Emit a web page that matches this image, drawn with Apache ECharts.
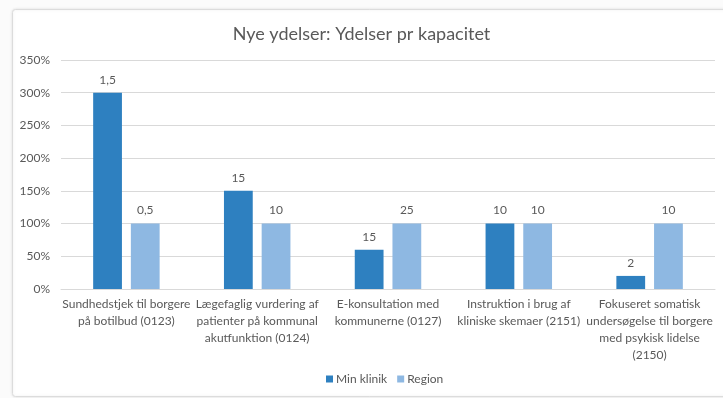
<!DOCTYPE html>
<html>
<head>
<meta charset="utf-8">
<script src="https://cdn.jsdelivr.net/npm/echarts@6/dist/echarts.min.js"></script>
<style>
  html, body { margin: 0; padding: 0; background: #ffffff; }
  #chart { width: 723px; height: 398px; }
</style>
</head>
<body>
<div id="chart"></div>
<script>
// Services and their ratios (share of capacity, %)
const categories = [
  'Sundhedstjek til borgere\npå botilbud (0123)',
  'Lægefaglig vurdering af\npatienter på kommunal\nakutfunktion (0124)',
  'E-konsultation med\nkommunerne (0127)',
  'Instruktion i brug af\nkliniske skemaer (2151)',
  'Fokuseret somatisk\nundersøgelse til borgere\nmed psykisk lidelse\n(2150)'
];
const minKlinikPct = [300, 150, 60, 100, 20];
const regionPct = [100, 100, 100, 100, 100];
// Counts printed above the bars
const minKlinikLabels = ['1,5', '15', '15', '10', '2'];
const regionLabels = ['0,5', '10', '25', '10', '10'];
const yTicks = [0, 50, 100, 150, 200, 250, 300, 350];

const FONT = 'Lato, "Open Sans", sans-serif';
const TXT = '#595959';

const chart = echarts.init(document.getElementById('chart'), null, { renderer: 'canvas' });
chart.setOption({
  animation: false,
  backgroundColor: '#fbfbfb',
  graphic: [{
    type: 'rect',
    left: 12, top: 9,
    shape: { width: 730, height: 387, r: 3 },
    style: { fill: '#ffffff', stroke: '#dcdcdc', lineWidth: 1, shadowBlur: 3, shadowColor: 'rgba(0,0,0,0.10)' },
    z: -10
  }],
  title: {
    text: 'Nye ydelser: Ydelser pr kapacitet',
    left: 'center', top: 20,
    textStyle: { fontFamily: FONT, fontSize: 18, fontWeight: 'normal', color: TXT }
  },
  legend: {
    bottom: 8, left: 321,
    itemWidth: 7, itemHeight: 7, itemGap: 10,
    icon: 'rect',
    textStyle: { fontFamily: FONT, fontSize: 12, color: TXT, padding: [0, 0, 0, -2] },
    data: ['Min klinik', 'Region']
  },
  grid: { left: 61, right: 8, top: 60, bottom: 109, containLabel: false },
  xAxis: {
    type: 'category',
    data: categories,
    axisLine: { lineStyle: { color: '#d9d9d9' } },
    axisTick: { show: false },
    axisLabel: { fontFamily: FONT, fontSize: 12, color: TXT, lineHeight: 17, margin: 7, interval: 0 }
  },
  yAxis: {
    type: 'value',
    min: yTicks[0], max: yTicks[yTicks.length - 1], interval: 50,
    axisLine: { show: false },
    axisTick: { show: false },
    splitLine: { lineStyle: { color: '#d9d9d9' } },
    axisLabel: { fontFamily: FONT, fontSize: 12, color: TXT, margin: 11, formatter: v => v + '%' }
  },
  series: [
    {
      name: 'Min klinik', type: 'bar', data: minKlinikPct,
      barWidth: '22%', barGap: '31%',
      itemStyle: { color: '#2e80c0' },
      label: { show: true, position: 'top', distance: 7, fontFamily: FONT, fontSize: 12, color: TXT,
               formatter: p => minKlinikLabels[p.dataIndex] }
    },
    {
      name: 'Region', type: 'bar', data: regionPct,
      barWidth: '22%',
      itemStyle: { color: '#8eb8e2' },
      label: { show: true, position: 'top', distance: 7, fontFamily: FONT, fontSize: 12, color: TXT,
               formatter: p => regionLabels[p.dataIndex] }
    }
  ]
});
</script>
</body>
</html>
